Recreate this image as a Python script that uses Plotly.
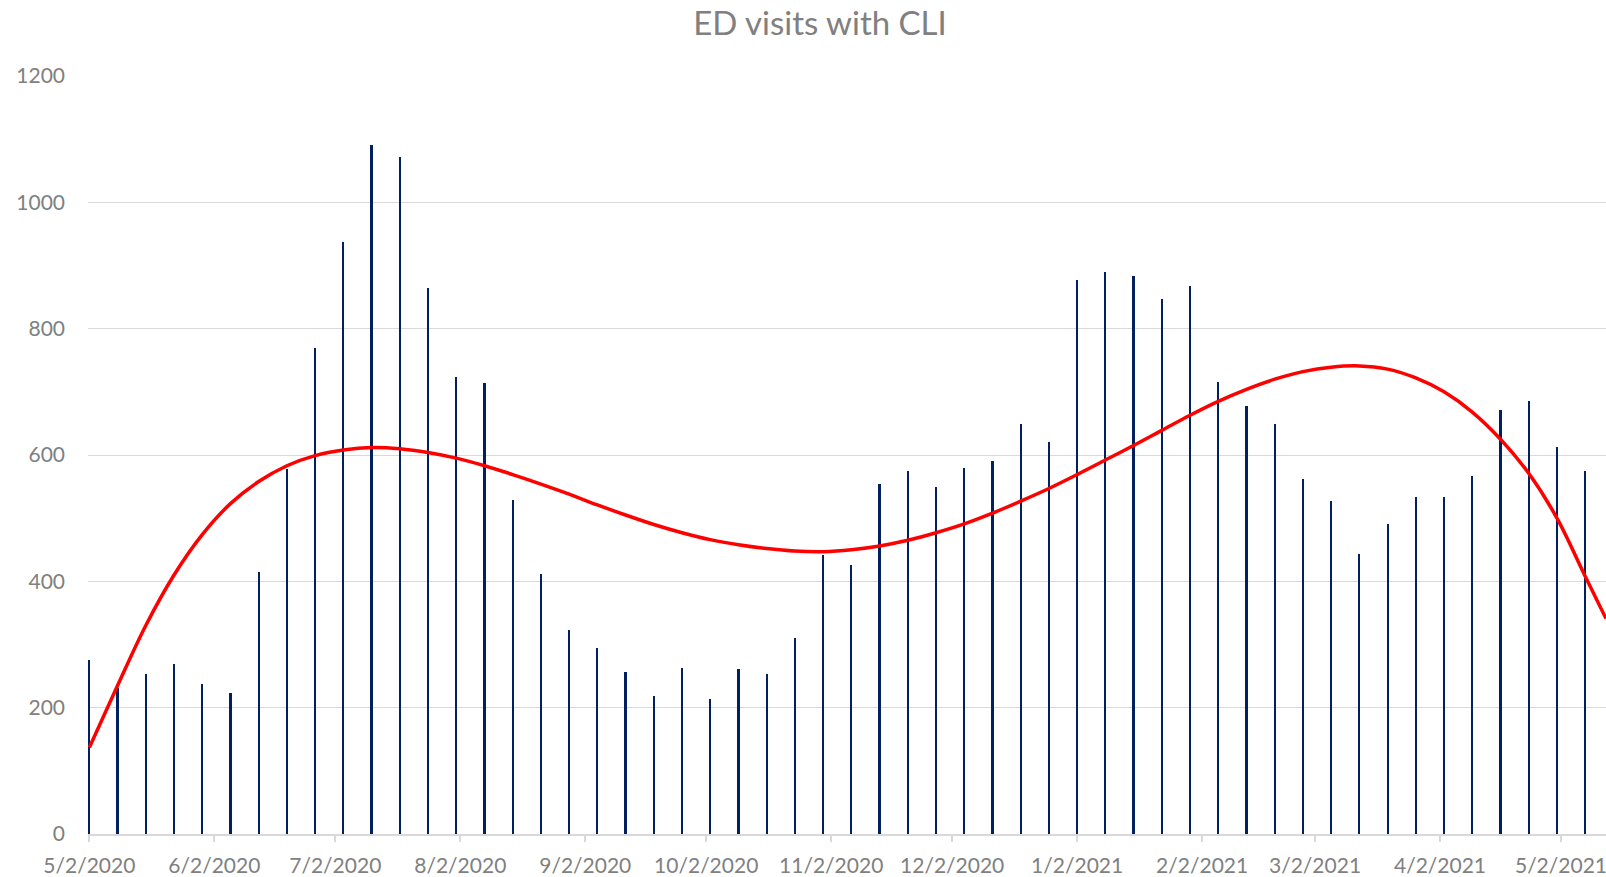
import pandas as pd
import plotly.graph_objects as go

# weekly ED visits with COVID-like illness, 5/2/2020 - 5/8/2021
weeks = pd.date_range('2020-05-02', periods=54, freq='7D')
visits = [275, 231, 253, 269, 237, 224, 414, 578, 770, 937,
          1090, 1072, 865, 724, 714, 529, 411, 323, 294, 257,
          219, 263, 213, 261, 253, 310, 442, 426, 554, 575,
          549, 579, 591, 649, 621, 877, 889, 884, 847, 867,
          716, 678, 649, 562, 527, 444, 491, 534, 534, 567,
          671, 685, 613, 575]

# trend line (weekly, plus the point at the right edge)
trend_dates = list(weeks) + [pd.Timestamp('2021-05-13 04:00')]
trend_vals = [137, 235, 330, 410, 474, 523, 558, 583, 599, 608,
              612, 610, 604, 595, 583, 569, 554, 538, 521, 505,
              490, 477, 466, 458, 452, 448, 447, 450, 456, 465,
              477, 491, 508, 527, 547, 569, 592, 615, 639, 663,
              685, 704, 720, 732, 739, 741, 736, 722, 700, 668,
              625, 571, 500, 408, 341]

tick_dates = ['2020-05-02', '2020-06-02', '2020-07-02', '2020-08-02', '2020-09-02',
              '2020-10-02', '2020-11-02', '2020-12-02', '2021-01-02', '2021-02-02',
              '2021-03-02', '2021-04-02', '2021-05-02']
tick_text = ['5/2/2020', '6/2/2020', '7/2/2020', '8/2/2020', '9/2/2020',
             '10/2/2020', '11/2/2020', '12/2/2020', '1/2/2021', '2/2/2021',
             '3/2/2021', '4/2/2021', '5/2/2021']

fig = go.Figure()
fig.add_trace(go.Bar(x=weeks, y=visits, width=0.55 * 86400000,
                     marker=dict(color='#002060', line=dict(width=0)),
                     name='ED visits'))
fig.add_trace(go.Scatter(x=trend_dates, y=trend_vals, mode='lines',
                         line=dict(color='#ff0000', width=3.5, shape='spline'),
                         name='Trend'))

fig.update_layout(
    width=1606, height=877,
    margin=dict(l=88, r=0, t=76, b=43),
    plot_bgcolor='white', paper_bgcolor='white',
    showlegend=False,
    font=dict(family='Lato', color='#808080', size=21),
    title=dict(text='ED visits with CLI', x=820 / 1606, xanchor='center',
               y=1 - 12 / 877, yanchor='top',
               font=dict(family='Lato', size=33, color='#808080')),
    bargap=0,
)
fig.update_xaxes(
    type='date',
    range=['2020-05-01 16:00', '2021-05-13 04:00'],
    tickvals=tick_dates, ticktext=tick_text,
    ticks='outside', ticklen=6, tickcolor='#d9d9d9', tickwidth=1.5,
    showline=True, linecolor='#d9d9d9', linewidth=1.5,
    showgrid=False, zeroline=False,
    ticklabelstandoff=6, ticklabeloverflow='allow',
)
fig.update_yaxes(
    range=[0, 1200], dtick=200,
    showgrid=True, gridcolor='#d9d9d9', gridwidth=1,
    zeroline=False, ticks='', ticklabelstandoff=22,
)

# drop the browser's default 8px body margin so the figure fills the window
fig.write_html("out.html", config={'displayModeBar': False},
               post_script="document.body.style.margin='0';")
